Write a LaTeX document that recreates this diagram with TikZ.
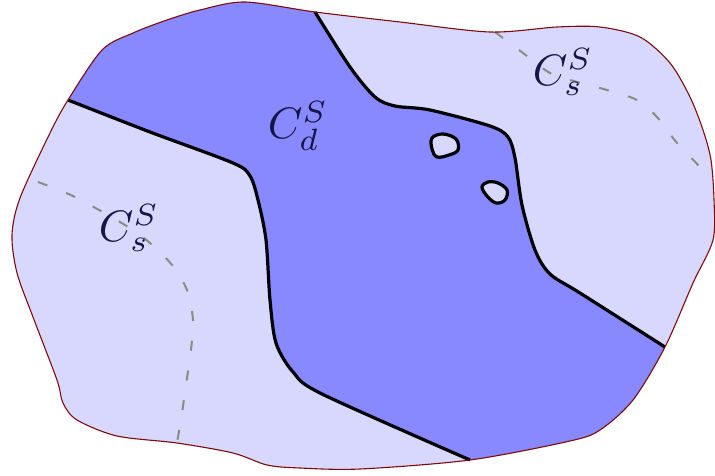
\documentclass[tikz,border=0pt]{standalone}
\begin{document}
\definecolor{lightreg}{RGB}{216,216,255}
\definecolor{darkreg}{RGB}{136,136,255}
\definecolor{rim}{RGB}{128,10,10}
\definecolor{dashgray}{RGB}{138,140,128}
\definecolor{labelcol}{RGB}{22,22,70}
\begin{tikzpicture}[x=1pt,y=-1pt,
  rimline/.style={draw=rim,line width=1.1pt},
  cutline/.style={draw=black,line width=3.2pt,line join=round},
  dashline/.style={draw=dashgray,line width=2pt,dash pattern=on 10pt off 20pt},
  lbl/.style={text=labelcol,scale=4.4,inner sep=0pt}]
\useasboundingbox (0,0) rectangle (715,476);
% outer light region
\fill[lightreg] plot[smooth cycle,tension=0.5] coordinates {(245,2) (315,12) (400,22) (490,32) (557,27) (600,27) (640,37) (670,63) (690,97) (703,130) (711,160) (714,200) (713,240) (693,283) (665,347) (633,400) (600,430) (570,441) (470,460) (360,469) (300,468) (267,465) (233,453) (177,443) (117,436) (77,420) (63,403) (57,380) (33,317) (17,273) (12,235) (20,198) (50,133) (68,100) (102,50) (133,33) (167,20) (200,10)};
% dark region, clipped
\begin{scope}
\clip plot[smooth cycle,tension=0.5] coordinates {(245,2) (315,12) (400,22) (490,32) (557,27) (600,27) (640,37) (670,63) (690,97) (703,130) (711,160) (714,200) (713,240) (693,283) (665,347) (633,400) (600,430) (570,441) (470,460) (360,469) (300,468) (267,465) (233,453) (177,443) (117,436) (77,420) (63,403) (57,380) (33,317) (17,273) (12,235) (20,198) (50,133) (68,100) (102,50) (133,33) (167,20) (200,10)};
\fill[darkreg] plot[smooth,tension=0.5] coordinates {(68,100) (150,132) (233,163) (250,176) (258,200) (266,240) (270,300) (276,343) (293,372) (322,394) (470,460)}
  -- (490,500) -- (720,500) -- (740,360)
  -- plot[smooth,tension=0.5] coordinates {(665,347) (580,293) (550,274) (535,250) (522,205) (515,158) (508,137) (490,126) (430,110) (395,106) (375,97) (350,67) (315,12)}
  -- (312,-20) -- (20,-20) -- (20,80) -- cycle;
\end{scope}
% dashed curves
\draw[dashline] plot[smooth,tension=0.5] coordinates {(38,182) (75,197) (125,225) (150,243) (172,265) (187,290) (193,320) (191,350) (186,385) (182,413) (177,443)};
\draw[dashline] plot[smooth,tension=0.5] coordinates {(495,32) (523,53) (550,73) (577,82) (607,90) (637,100) (657,117) (677,143) (700,167) (711,180)};
% labels
\node[lbl] (cd) at (298,126) {$C_d^S$};
\node[lbl] (csl) at (129,228) {$C_s^S$};
\node[lbl] (csr) at (563,72) {$C_s^S$};
% cut lines
\draw[cutline] plot[smooth,tension=0.5] coordinates {(68,100) (150,132) (233,163) (250,176) (258,200) (266,240) (270,300) (276,343) (293,372) (322,394) (470,460)};
\draw[cutline] plot[smooth,tension=0.5] coordinates {(665,347) (580,293) (550,274) (535,250) (522,205) (515,158) (508,137) (490,126) (430,110) (395,106) (375,97) (350,67) (315,12)};
% holes
\draw[cutline,fill=lightreg] plot[smooth cycle,tension=0.6] coordinates {(432,138) (443,134) (456,139) (458,150) (449,155) (437,157) (432,149)};
\draw[cutline,fill=lightreg] plot[smooth cycle,tension=0.6] coordinates {(482,187) (488,182) (498,183) (507,190) (505,200) (496,203) (487,196)};
% outer rim
\draw[rimline] plot[smooth cycle,tension=0.5] coordinates {(245,2) (315,12) (400,22) (490,32) (557,27) (600,27) (640,37) (670,63) (690,97) (703,130) (711,160) (714,200) (713,240) (693,283) (665,347) (633,400) (600,430) (570,441) (470,460) (360,469) (300,468) (267,465) (233,453) (177,443) (117,436) (77,420) (63,403) (57,380) (33,317) (17,273) (12,235) (20,198) (50,133) (68,100) (102,50) (133,33) (167,20) (200,10)};
\end{tikzpicture}
\end{document}
